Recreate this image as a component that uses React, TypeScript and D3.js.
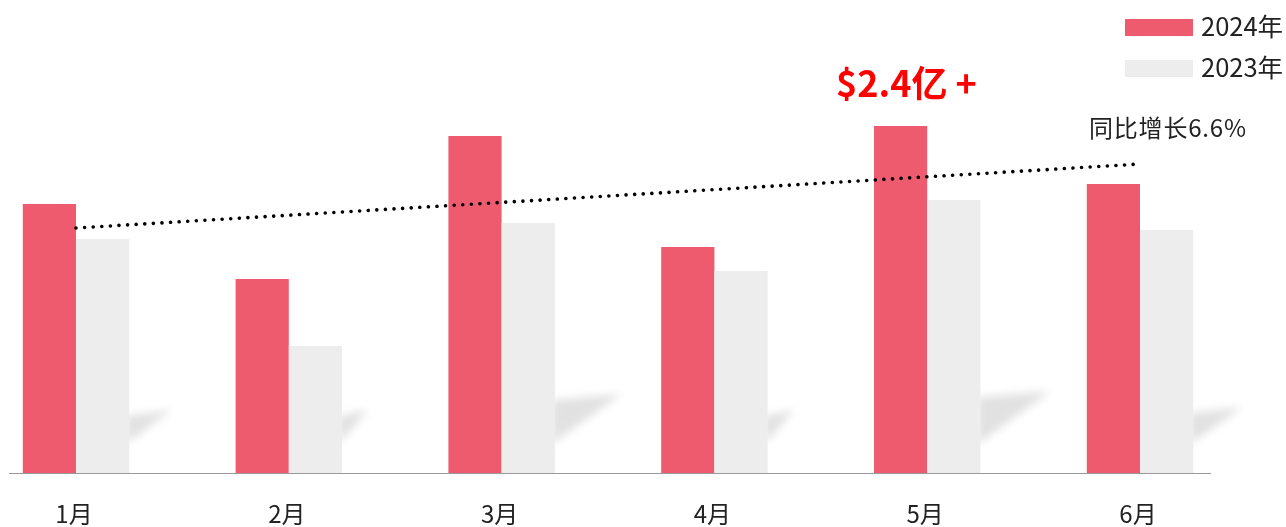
import React from "react";
import * as d3 from "d3";

const months: string[] = ["1月", "2月", "3月", "4月", "5月", "6月"];
const values2024: number[] = [269, 194, 337, 226, 347, 289];
const values2023: number[] = [234, 127, 250, 202, 273, 243];
const seriesNames: string[] = ["2024年", "2023年"];
const highlightText = "$2.4亿 +";
const growthText = "同比增长6.6%";

const W = 1286;
const H = 527;
const RED = "#EF5B6E";
const GRAY = "#EDEDED";
const FONT = "'Noto Sans CJK SC', 'Noto Sans', sans-serif";

export default function App() {
  const x = d3.scaleBand<string>().domain(months).range([-30.4, 1246.4]).paddingInner(0).paddingOuter(0);
  const inner = d3.scaleBand<string>().domain(["a", "b"]).range([x.bandwidth() / 4, (x.bandwidth() * 3) / 4]);
  const y = d3.scaleLinear().domain([0, 400]).range([473, 73]);

  // linear trendline on the 2024 series
  const idx = months.map((_, i) => i + 1);
  const mx = d3.mean(idx)!;
  const my = d3.mean(values2024)!;
  const slope =
    d3.sum(idx.map((v, i) => (v - mx) * (values2024[i] - my))) / d3.sum(idx.map((v) => (v - mx) ** 2));
  const trend = (i: number) => my + slope * (i - mx);
  const line = d3
    .line<number>()
    .x((i) => x(months[i - 1])! + x.bandwidth() / 2)
    .y((i) => y(trend(i)));

  const shadowPath = (i: number) => {
    const x0 = x(months[i])! + inner("b")! + inner.bandwidth();
    const L = Math.max(26, 0.36 * (values2024[i] - 152));
    const bottom = 444;
    const top = bottom - Math.max(34, L * 0.75);
    return `M${x0 - 3},${top + 6} L${x0 + L},${top} L${x0 - 3},${bottom} Z`;
  };

  return (
    <svg width={W} height={H} style={{ position: "absolute", left: 0, top: 0, background: "#fff" }}>
      <defs>
        <filter id="blur" x="-50%" y="-50%" width="200%" height="200%">
          <feGaussianBlur stdDeviation="4.5" />
        </filter>
      </defs>
      <g filter="url(#blur)">
        {months.map((m, i) => (
          <path key={m} d={shadowPath(i)} fill="#dcdcdc" opacity={0.85} />
        ))}
      </g>
      {months.map((m, i) => (
        <g key={m}>
          <rect
            x={x(m)! + inner("a")!}
            y={y(values2024[i])}
            width={inner.bandwidth()}
            height={y(0) - y(values2024[i])}
            fill={RED}
          />
          <rect
            x={x(m)! + inner("b")!}
            y={y(values2023[i])}
            width={inner.bandwidth()}
            height={y(0) - y(values2023[i])}
            fill={GRAY}
          />
          <text
            x={x(m)! + x.bandwidth() / 2 - 2}
            y={523}
            textAnchor="middle"
            fontFamily={FONT}
            fontSize={24}
            fill="#222"
          >
            {m}
          </text>
        </g>
      ))}
      <line x1={9} x2={1211} y1={y(0) + 0.5} y2={y(0) + 0.5} stroke="#9a9a9a" strokeWidth={1} />
      <path
        d={line([1, months.length]) || ""}
        fill="none"
        stroke="#000"
        strokeWidth={3.6}
        strokeLinecap="round"
        strokeDasharray="0.01 8.6"
      />
      {/* legend */}
      <rect x={1125} y={19} width={68} height={17} fill={RED} />
      <text x={1201} y={36} fontFamily={FONT} fontSize={25.5} fill="#222">
        {seriesNames[0]}
      </text>
      <rect x={1125} y={60} width={68} height={17} fill={GRAY} />
      <text x={1201} y={77} fontFamily={FONT} fontSize={25.5} fill="#222">
        {seriesNames[1]}
      </text>
      <text x={1089} y={137} fontFamily={FONT} fontSize={24} letterSpacing={0.8} fill="#222">
        {growthText}
      </text>
      <text x={836} y={97} fontFamily={FONT} fontSize={36} fontWeight="bold" fill="#FF0000">
        {highlightText}
      </text>
    </svg>
  );
}
